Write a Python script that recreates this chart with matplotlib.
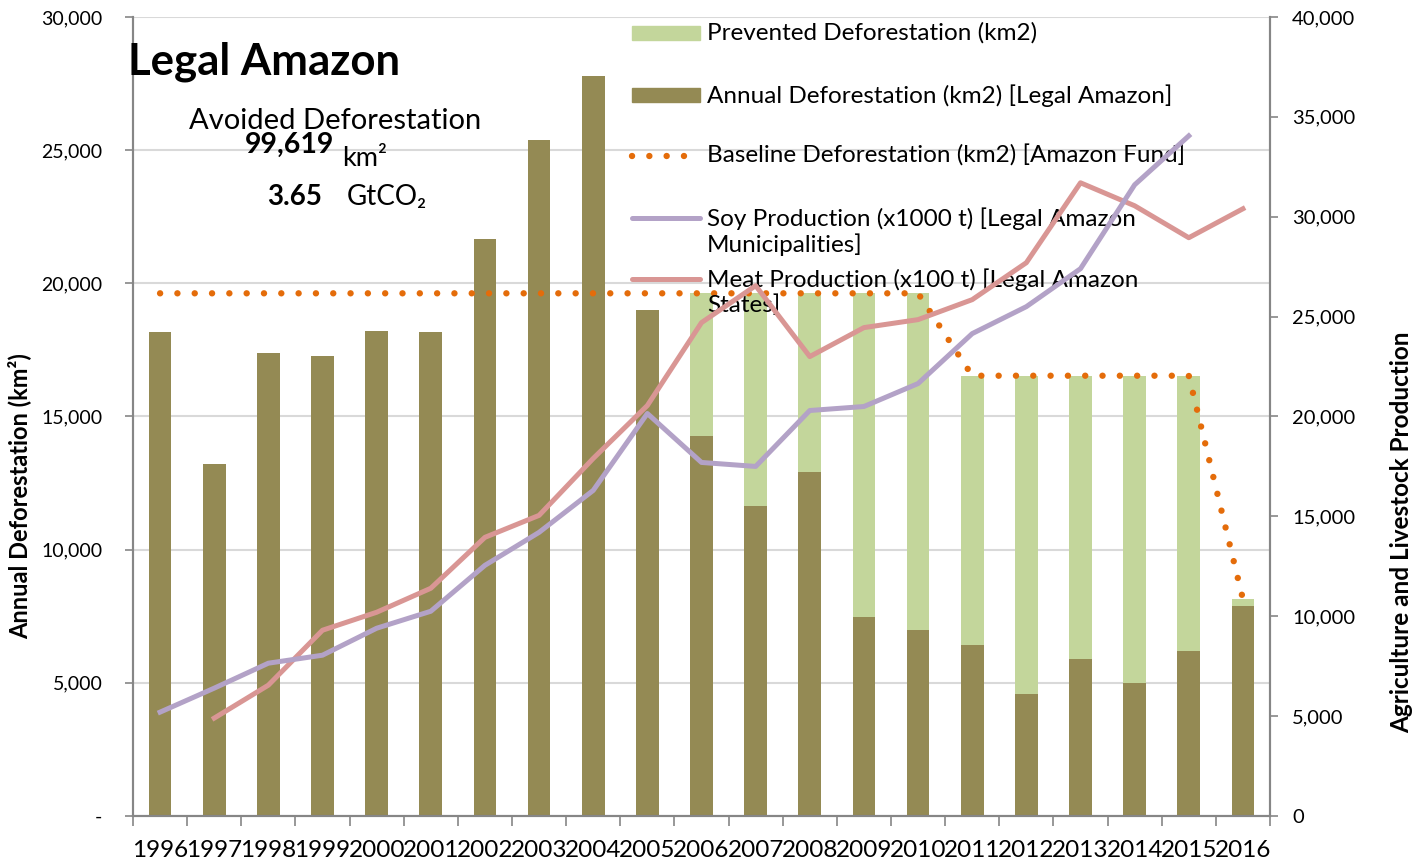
import numpy as np
import matplotlib
matplotlib.use("Agg")
import matplotlib.pyplot as plt
from matplotlib.lines import Line2D
from matplotlib.patches import Rectangle
from matplotlib.ticker import FuncFormatter, FixedLocator

plt.rcParams['font.family'] = ['Lato', 'DejaVu Sans']

# data
years = [str(y) for y in range(1996, 2017)]
annual = [18161, 13227, 17383, 17259, 18226, 18165, 21651, 25396, 27772, 19014,
          14286, 11651, 12911, 7464, 7000, 6418, 4571, 5891, 5012, 6207, 7893]
baseline = [19625] * 15 + [16531] * 5 + [8143]
prevented = [0] * 10 + [b - a for b, a in zip(baseline[10:], annual[10:])]
soy = [5200, 6400, 7650, 8050, 9400, 10250, 12550, 14200, 16300, 20150,
       17700, 17500, 20300, 20500, 21650, 24150, 25500, 27400, 31600, 34050]
meat = [np.nan, 4900, 6550, 9300, 10200, 11400, 13950, 15050, 17900, 20550,
        24700, 26550, 23000, 24450, 24850, 25850, 27700, 31700, 30550, 28950, 30400]

c_annual = '#948A54'
c_prev = '#C3D69B'
c_base = '#E46C0A'
c_soy = '#B3A2C7'
c_meat = '#D99694'
c_axis = '#868686'

W, H = 1421, 867
fig = plt.figure(figsize=(W / 100, H / 100), dpi=100)
ax = fig.add_axes([133 / W, 1 - 816 / H, (1270 - 133) / W, (816 - 17) / H])
ax2 = ax.twinx()

def px(x, y):
    return (x / W, 1 - y / H)

dots = (0, (0.01, 2.7))

x = np.arange(len(years))
ax.bar(x, annual, width=0.42, color=c_annual, zorder=2)
ax.bar(x, prevented, width=0.42, bottom=annual, color=c_prev, zorder=2)
ax.plot(x, baseline, color=c_base, lw=4.6, linestyle=dots,
        dash_capstyle='round', zorder=3)

ax2.plot(x[:len(soy)], soy, color=c_soy, lw=3.6, zorder=3)
ax2.plot(x, meat, color=c_meat, lw=3.6, zorder=2)

ax.set_xlim(-0.5, len(years) - 0.5)
ax.set_ylim(0, 30000)
ax2.set_ylim(0, 40000)

ax.yaxis.set_major_locator(FixedLocator(np.arange(0, 30001, 5000)))
ax.yaxis.set_major_formatter(FuncFormatter(lambda v, p: '-' if v == 0 else f'{int(v):,}'))
ax2.yaxis.set_major_locator(FixedLocator(np.arange(0, 40001, 5000)))
ax2.yaxis.set_major_formatter(FuncFormatter(lambda v, p: f'{int(v):,}'))

ax.grid(axis='y', color='#D9D9D9', lw=1.5, zorder=0)
ax.set_axisbelow(True)

ax.set_xticks(np.arange(-0.5, len(years)), labels=[''] * (len(years) + 1))
ax.set_xticks(x, labels=years, minor=True)
ax.tick_params(axis='x', which='major', length=7, width=1.2, color=c_axis, direction='out')
ax.tick_params(axis='x', which='minor', length=0, pad=17, labelsize=17.5)
ax.tick_params(axis='y', length=6, width=1.2, color=c_axis, labelsize=14, pad=16)
ax2.tick_params(axis='y', length=6, width=1.2, color=c_axis, labelsize=14.5, pad=10)

for a in (ax, ax2):
    a.spines['top'].set_visible(False)
    for s in ('left', 'right', 'bottom'):
        a.spines[s].set_color(c_axis)
        a.spines[s].set_linewidth(1.5)

ax.set_ylabel('Annual Deforestation (km²)', fontsize=17, fontweight='bold', family='Lato')
ax.yaxis.set_label_coords(-0.0895, 0.40)
ax2.set_ylabel('Agriculture and Livestock Production', fontsize=17.5, fontweight='bold',
               rotation=90)
ax2.yaxis.set_label_coords(1.106, 0.355)

# annotations
fig.text(*px(128, 74), 'Legal Amazon', fontsize=31.5, fontweight='bold', va='baseline')
fig.text(*px(335, 129), 'Avoided Deforestation', fontsize=21, ha='center', va='baseline')
fig.text(*px(245, 153), '99,619', fontsize=20.5, fontweight='bold', va='baseline')
fig.text(*px(342, 166), 'km²', fontsize=19.5, va='baseline')
fig.text(*px(267, 205), '3.65', fontsize=20, fontweight='bold', va='baseline')
fig.text(*px(347, 205), 'GtCO₂', fontsize=20, va='baseline')

# legend (drawn manually to keep Excel-style spacing)
lx0, lx1, tx = 632, 700, 707
fs = 17.5
entries = [(33, 'Prevented Deforestation (km2)'),
           (95, 'Annual Deforestation (km2) [Legal Amazon]'),
           (156, 'Baseline Deforestation (km2) [Amazon Fund]'),
           (218, 'Soy Production (x1000 t) [Legal Amazon\nMunicipalities]'),
           (279, 'Meat Production (x100 t) [Legal Amazon\nStates]')]
for (yy, lab), kind in zip(entries, ['prev', 'annual', 'base', 'soy', 'meat']):
    if kind in ('prev', 'annual'):
        col = c_prev if kind == 'prev' else c_annual
        r = Rectangle(px(lx0, yy + 7), (lx1 - lx0) / W, 14 / H, color=col,
                      transform=fig.transFigure, zorder=1)
        ax.add_artist(r)
    elif kind == 'base':
        ax.add_artist(Line2D([lx0 / W, lx1 / W], [1 - yy / H] * 2, color=c_base, lw=4.6,
                             linestyle=dots, dash_capstyle='round',
                             transform=fig.transFigure, zorder=1))
    else:
        col = c_soy if kind == 'soy' else c_meat
        ax.add_artist(Line2D([lx0 / W, lx1 / W], [1 - yy / H] * 2, color=col, lw=3.6,
                             solid_capstyle='round', transform=fig.transFigure, zorder=1))
    ax.text(*px(tx, yy - 11), lab, fontsize=fs, va='top', ha='left',
            transform=fig.transFigure, linespacing=1.2, zorder=4)

fig.savefig('out.png', dpi=100)
